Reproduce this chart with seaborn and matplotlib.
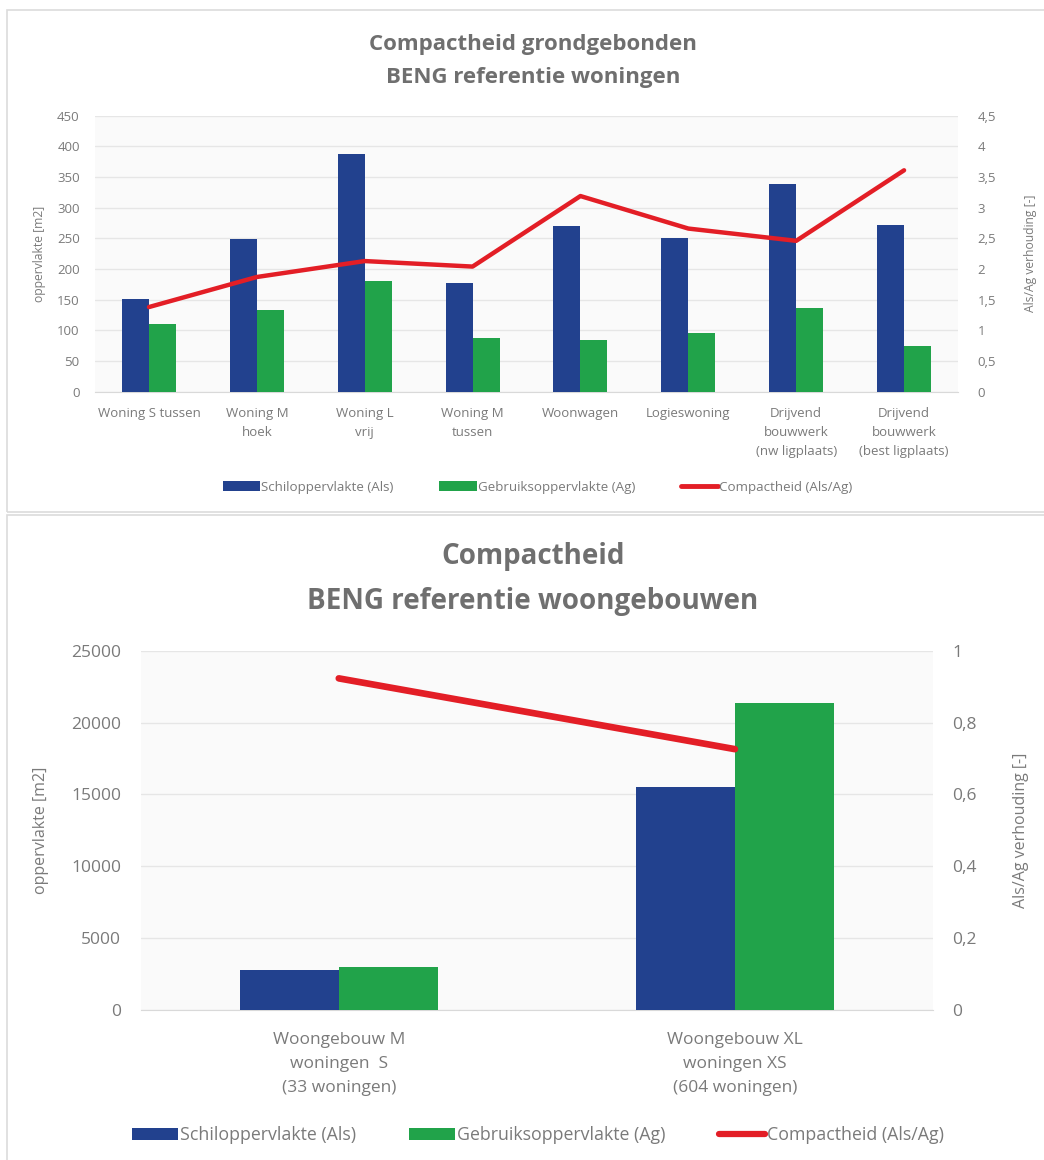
import pandas as pd
import seaborn as sns
import matplotlib.pyplot as plt
from matplotlib.patches import Patch, Rectangle
from matplotlib.lines import Line2D
from matplotlib.ticker import FuncFormatter, MultipleLocator

# Data grondgebonden woningen
cats_top = ["Woning S tussen", "Woning M\nhoek", "Woning L\nvrij", "Woning M\ntussen",
            "Woonwagen", "Logieswoning", "Drijvend\nbouwwerk\n(nw ligplaats)",
            "Drijvend\nbouwwerk\n(best ligplaats)"]
als_top = [151, 249, 387, 177, 270, 250, 339, 271]
ag_top = [110, 133, 181, 87, 85, 95, 137, 75]
ratio_top = [1.38, 1.87, 2.13, 2.04, 3.19, 2.66, 2.46, 3.61]

# Data woongebouwen
cats_bot = ["Woongebouw M\nwoningen  S\n(33 woningen)", "Woongebouw XL\nwoningen XS\n(604 woningen)"]
als_bot = [2760, 15540]
ag_bot = [2970, 21340]
ratio_bot = [0.923, 0.726]

series = ["Schiloppervlakte (Als)", "Gebruiksoppervlakte (Ag)"]
line_name = "Compactheid (Als/Ag)"

BLUE = "#22418e"
GREEN = "#21a34a"
RED = "#e31e26"
GRAY = "#6f6f6f"
TXT = "#7a7a7a"

sns.set_style("white")
plt.rcParams["font.family"] = ["Open Sans", "DejaVu Sans"]

fig = plt.figure(figsize=(10.44, 11.6), dpi=100)

# panel randen
fig.add_artist(Rectangle((7 / 1044, 1 - 512 / 1160), 1.2, 502 / 1160, transform=fig.transFigure,
                         facecolor="none", edgecolor="#dcdcdc", lw=1.2))
fig.add_artist(Rectangle((7 / 1044, -0.1), 1.2, 0.1 + 1 - 515 / 1160, transform=fig.transFigure,
                         facecolor="none", edgecolor="#dcdcdc", lw=1.2))


def comma(v, pos):
    return f"{v:g}".replace(".", ",")


def draw(rect, cats, als, ag, ratio, ymax, ystep, rmax, rstep, fs, lfs, lw, padl, padr, padx, ylpad, rlpad, lsp):
    ax = fig.add_axes(rect)
    df = pd.DataFrame({
        "cat": cats * 2,
        "serie": [series[0]] * len(cats) + [series[1]] * len(cats),
        "waarde": als + ag,
    })
    sns.barplot(data=df, x="cat", y="waarde", hue="serie", palette=[BLUE, GREEN],
                width=0.5, gap=0, saturation=1, ax=ax, legend=False, zorder=3, linewidth=0)
    ax.set_facecolor("#fafafa")
    ax.set_ylim(0, ymax)
    ax.yaxis.set_major_locator(MultipleLocator(ystep))
    ax.grid(axis="y", color="#e6e6e6", lw=1, zorder=0)
    ax.set_axisbelow(True)
    for s in ["left", "right", "top"]:
        ax.spines[s].set_visible(False)
    ax.spines["bottom"].set_color("#d9d9d9")
    ax.tick_params(axis="y", length=0, labelsize=fs, labelcolor=TXT, pad=padl)
    ax.tick_params(axis="x", length=0, labelsize=lfs, labelcolor=TXT, pad=padx)
    for t in ax.get_xticklabels():
        t.set_linespacing(lsp)
    ax.set_xlabel("")
    ax.set_ylabel("oppervlakte [m2]", fontsize=fs * 0.92, color=TXT, labelpad=ylpad)

    ax2 = ax.twinx()
    sns.lineplot(x=cats, y=ratio, sort=False, color=RED, lw=lw, ax=ax2,
                 solid_capstyle="round", zorder=5)
    ax2.set_ylim(0, rmax)
    ax2.yaxis.set_major_locator(MultipleLocator(rstep))
    ax2.yaxis.set_major_formatter(FuncFormatter(comma))
    for s in ["left", "right", "top", "bottom"]:
        ax2.spines[s].set_visible(False)
    ax2.tick_params(axis="y", length=0, labelsize=fs, labelcolor=TXT, pad=padr)
    ax2.set_ylabel("Als/Ag verhouding [-]", fontsize=fs * 0.92, color=TXT, labelpad=rlpad)
    ax.set_xlim(-0.5, len(cats) - 0.5)
    return ax


# bovenste grafiek
draw([95 / 1044, 1 - 391.7 / 1160, 863 / 1044, 276 / 1160], cats_top, als_top, ag_top, ratio_top,
     450, 50, 4.5, 0.5, fs=9.5, lfs=9.5, lw=3.2, padl=11, padr=14, padx=11, ylpad=8, rlpad=20, lsp=1.6)
fig.text(533 / 1044, 1 - 61 / 1160, "Compactheid grondgebonden\nBENG referentie woningen",
         ha="center", va="center", fontsize=16, fontweight="bold", color=GRAY, linespacing=1.75)

# onderste grafiek
draw([140.7 / 1044, 1 - 1010 / 1160, 792.3 / 1044, 359.3 / 1160], cats_bot, als_bot, ag_bot, ratio_bot,
     25000, 5000, 1, 0.2, fs=12.5, lfs=12.5, lw=4.8, padl=14, padr=14, padx=16, ylpad=16, rlpad=26, lsp=1.65)
fig.text(533 / 1044, 1 - 579 / 1160, "Compactheid\nBENG referentie woongebouwen",
         ha="center", va="center", fontsize=20, fontweight="bold", color=GRAY, linespacing=1.7)


def legend(y, fs, hl, lw, cs):
    handles = [Patch(facecolor=BLUE, edgecolor="none"), Patch(facecolor=GREEN, edgecolor="none"),
               Line2D([], [], color=RED, lw=lw, solid_capstyle="round")]
    labels = series + [line_name]
    fig.legend(handles, labels, loc="center", bbox_to_anchor=(0.515, y), ncol=3, frameon=False,
               fontsize=fs, handlelength=hl, handleheight=0.7, handletextpad=0.1, columnspacing=cs,
               labelcolor=TXT)


legend(1 - 487 / 1160, 9.6, 2.8, 3.5, 3.4)
legend(1 - 1135 / 1160, 12.8, 2.6, 4.5, 3.0)

fig.savefig("out.png", dpi=100)
